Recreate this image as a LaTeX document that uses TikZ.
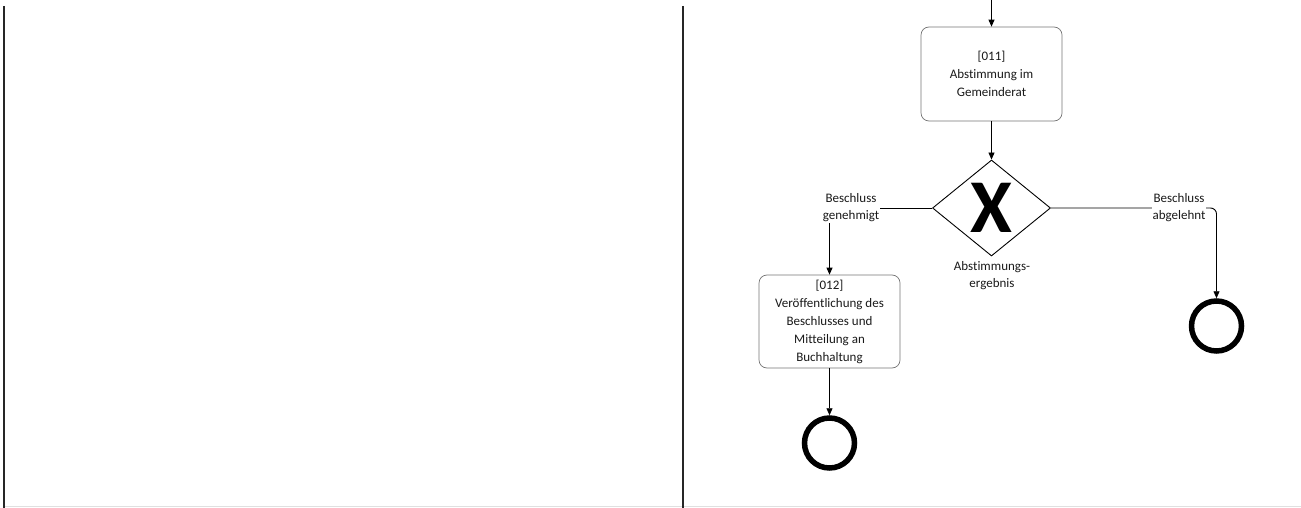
\documentclass[tikz,border=0pt]{standalone}
\usepackage{fontspec}
\setmainfont[Ligatures={NoCommon}]{Carlito}
\usetikzlibrary{arrows.meta,shapes.geometric}
\begin{document}
\begin{tikzpicture}[x=1pt,y=-1pt,
  task/.style={draw=black!55, line width=0.7pt, rounded corners=8pt, minimum width=141pt, minimum height=94pt, align=center, inner sep=2pt, font=\fontsize{13}{18}\selectfont, text=black!90},
  flow/.style={draw, line width=0.9pt, -{Triangle[length=7pt,width=6pt]}},
  endev/.style={circle, draw, line width=5.5pt, minimum size=50pt, inner sep=0pt},
  gateway/.style={diamond, draw, line width=0.9pt, minimum width=118pt, minimum height=96pt, inner sep=0pt, aspect=1.23},
  lbl/.style={align=center, inner sep=0.5pt, font=\fontsize{13}{17}\selectfont, text=black!90},
  border/.style={line width=1.8pt, draw=black!85}]
\useasboundingbox (0,0) rectangle (1301,508);
\coordinate (l1) at (4,6);
\coordinate (l2) at (4,508);
\coordinate (m1) at (683,6);
\coordinate (m2) at (683,508);
\coordinate (b1) at (4,506.5);
\coordinate (b2) at (1301,506.5);
\draw[black!12, line width=1pt] (b1) -- (b2);
\draw[border] (l1) -- (l2);
\draw[border] (m1) -- (m2);

\node[task] (t11) at (991.5,74) {[011]\\Abstimmung im\\Gemeinderat};
\coordinate (top) at (991.5,0);
\draw[flow] (top) -- (t11);
\node[gateway] (gw) at (991.5,208) {};
\node[font=\bfseries\fontsize{76}{76}\selectfont, inner sep=0pt] (gwx) at (gw) {X};
\draw[flow] (t11) -- (gw);
\node[lbl] (gwl) at (992,276) {Abstimmungs-\\ergebnis};

\node[task, minimum height=93pt] (t12) at (829.5,321.5) {[012]\\Ver\"offentlichung des\\Beschlusses und\\Mitteilung an\\Buchhaltung};
\node[endev] (e1) at (829.5,443) {};
\node[endev] (e2) at (1216.5,326) {};

\draw[flow] (gw.west) -| (t12.north);
\node[lbl, fill=white] (lg) at (851,208) {Beschluss\\genehmigt};
\draw[flow, rounded corners=6pt] (gw.east) -| (e2.north);
\node[lbl, fill=white] (la) at (1179,208) {Beschluss\\abgelehnt};
\draw[flow] (t12) -- (e1);
\end{tikzpicture}
\end{document}
